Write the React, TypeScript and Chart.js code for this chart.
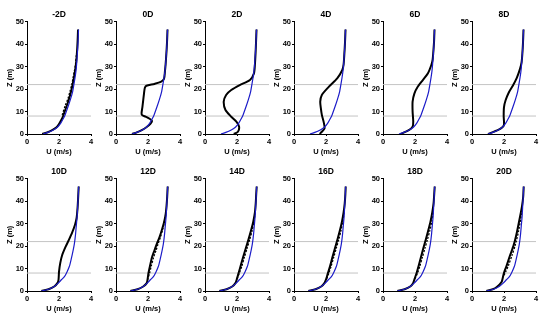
import { useEffect, useRef } from "react";
import { Chart, registerables } from "chart.js";

Chart.register(...registerables);

type P = [number, number]; // [U (m/s), Z (m)]

const panelTitles = ["-2D", "0D", "2D", "4D", "6D", "8D", "10D", "12D", "14D", "16D", "18D", "20D"];

const xMin = 0, xMax = 4, xStep = 2;
const yMin = 0, yMax = 50, yStep = 10;
const refHeights = [8, 22];

const inflowTop: P[] = [[1.0,0],[1.3,0.7],[1.64,1.8],[1.9,3],[2.1,4.7],[2.28,7],[2.38,8.5],[2.6,12.9],[2.72,15.5],[2.85,18.8],[2.93,22],[3.0,25],[3.06,28],[3.1,31],[3.15,36],[3.19,41],[3.22,46.5]];
const inflowBottom: P[] = [[0.9,0],[1.35,0.8],[1.7,2],[1.95,3.5],[2.15,5],[2.35,6.5],[2.5,8.5],[2.65,11],[2.77,14.4],[2.88,18],[2.96,21],[3.03,25],[3.08,29],[3.13,33],[3.17,38],[3.2,42],[3.23,46.5]];

const wakeM2D: P[] = [[0.95,0],[1.3,0.8],[1.6,1.8],[1.85,3],[2.02,4.7],[2.2,7],[2.28,8.5],[2.5,12.9],[2.62,15.5],[2.75,18.8],[2.85,22],[2.93,25],[3.0,28],[3.06,31],[3.12,36],[3.16,41],[3.19,46.5]];
const wake0D: P[] = [[1.0,0],[1.3,0.7],[1.64,1.8],[1.9,3],[2.15,4.5],[2.25,5.8],[2.1,6.8],[1.85,7.7],[1.62,8.5],[1.6,9.5],[1.65,12],[1.7,15],[1.75,18],[1.8,20.5],[1.9,21.5],[2.4,22.3],[2.8,23.2],[3.0,24.5],[3.06,28],[3.1,31],[3.15,36],[3.19,41],[3.22,46.5]];
const wake2D: P[] = [[1.8,0],[2.06,1],[2.13,3.3],[1.96,5.5],[1.64,7.7],[1.28,10.7],[1.17,14.4],[1.32,17.4],[1.64,19.6],[2.17,21.8],[2.81,24],[3.06,27],[3.12,31],[3.16,36],[3.19,41],[3.22,46.5]];
const wake4D: P[] = [[1.6,0],[1.74,1],[1.91,2.5],[1.85,5.5],[1.74,8.5],[1.68,11.4],[1.64,14.4],[1.74,17.4],[2.17,21],[2.7,24.8],[3.02,28.5],[3.1,31],[3.15,36],[3.19,41],[3.22,46.5]];
const wake6D: P[] = [[1.1,0],[1.64,1.8],[1.85,3.3],[1.89,5.5],[1.85,10],[1.85,14.4],[1.96,18],[2.17,21],[2.49,24],[2.81,27],[3.02,30.7],[3.1,33],[3.15,37],[3.19,41],[3.22,46.5]];
const wake8D: P[] = [[1.0,0],[1.64,1.8],[1.9,3],[2.0,4.2],[1.98,8],[2.0,12],[2.1,15],[2.3,18.5],[2.55,21.5],[2.8,25],[3.0,29],[3.1,32],[3.15,36],[3.19,41],[3.22,46.5]];
const wake10D: P[] = [[0.9,0],[1.35,0.8],[1.7,2],[1.9,3.5],[1.97,5],[2.0,8.5],[2.08,12.5],[2.2,16],[2.4,19.5],[2.6,22.5],[2.82,26],[3.0,29.5],[3.1,32.5],[3.16,37],[3.2,42],[3.23,46.5]];
const wake12D: P[] = [[0.9,0],[1.35,0.8],[1.7,2],[1.92,3.5],[1.97,5],[2.03,8],[2.12,11],[2.25,15],[2.4,18],[2.55,21],[2.72,24],[2.88,27.5],[3.0,30.5],[3.1,34],[3.16,38],[3.2,42],[3.23,46.5]];
const wake14D: P[] = [[0.9,0],[1.35,0.8],[1.7,2],[1.9,3.5],[2.0,5.5],[2.1,8],[2.22,11],[2.38,15],[2.55,19],[2.72,23],[2.88,27],[3.02,31],[3.12,35],[3.17,39],[3.2,43],[3.23,46.5]];
const wake16D: P[] = [[0.9,0],[1.35,0.8],[1.7,2],[1.9,3.5],[2.02,5.5],[2.12,8],[2.25,11],[2.4,15],[2.56,19],[2.72,23],[2.87,27],[3.0,31],[3.1,35],[3.17,39],[3.21,43],[3.23,46.5]];
const wake18D: P[] = [[0.9,0],[1.35,0.8],[1.7,2],[1.88,3.5],[1.98,5.5],[2.1,8],[2.22,11],[2.37,15],[2.52,19],[2.68,23],[2.83,27],[2.97,31],[3.08,35],[3.16,39],[3.2,43],[3.23,46.5]];
const wake20D: P[] = [[0.9,0],[1.3,0.8],[1.55,1.8],[1.85,4],[1.96,7],[2.02,8.5],[2.17,11.4],[2.38,15.9],[2.6,20.3],[2.81,26.3],[3.02,33.7],[3.13,38],[3.2,42],[3.23,46.5]];

const dotsM2D: P[] = [[2.2,8.5],[2.4,12.9],[2.55,15.5],[2.68,18.8],[2.8,22],[2.88,25],[2.96,28],[3.03,31],[3.1,36]];
const dots12D: P[] = [[1.97,5],[2.1,8],[2.2,11],[2.35,15],[2.5,18],[2.63,21],[2.78,24],[2.92,27.5],[3.02,30.5],[3.1,34]];
const dots14D: P[] = [[2.0,5.5],[2.15,8],[2.3,11],[2.46,15],[2.63,19],[2.8,23],[2.95,27],[3.06,31],[3.13,35]];
const dots16D: P[] = [[2.05,5.5],[2.18,8],[2.32,11],[2.48,15],[2.64,19],[2.8,23],[2.94,27],[3.05,31],[3.13,35]];
const dots18D: P[] = [[2.0,5.5],[2.16,8],[2.3,11],[2.46,15],[2.62,19],[2.78,23],[2.93,27],[3.05,31],[3.13,35]];
const dots20D: P[] = [[2.0,7],[2.1,8.5],[2.28,11.4],[2.5,15.9],[2.7,20.3],[2.9,26.3],[3.08,33.7],[3.15,38]];

const wakeSolid: P[][] = [wakeM2D, wake0D, wake2D, wake4D, wake6D, wake8D, wake10D, wake12D, wake14D, wake16D, wake18D, wake20D];
const wakeDots: (P[] | null)[] = [dotsM2D, null, null, null, null, null, null, dots12D, dots14D, dots16D, dots18D, dots20D];

const FONT = "'Liberation Sans', Arial, Helvetica, sans-serif";
const BLUE = "#1c1cc8";
const GRAY = "#c4c4c4";

const PANEL_W = 95;
const PANEL_H = 160;
const COL_STEP = 89;
const ROW_STEP = 157;

function toXY(p: P[]) {
  return p.map(([x, y]) => ({ x, y }));
}

function Panel({ index }: { index: number }) {
  const ref = useRef<HTMLCanvasElement | null>(null);
  useEffect(() => {
    if (!ref.current) return;
    const row = index < 6 ? 0 : 1;
    const inflow = row === 0 ? inflowTop : inflowBottom;
    const datasets: any[] = [];
    datasets.push({ data: toXY(inflow), borderColor: BLUE, borderWidth: 1.2, tension: 0.25 });
    const dots = wakeDots[index];
    if (dots) {
      datasets.push({ data: toXY(dots), borderColor: "#000", borderWidth: 1.3, borderDash: [2, 1.5], tension: 0.25 });
    }
    datasets.push({ data: toXY(wakeSolid[index]), borderColor: "#000", borderWidth: 2, tension: 0.25 });
    refHeights.forEach((h) => {
      datasets.push({ data: [{ x: xMin, y: h }, { x: xMax, y: h }], borderColor: GRAY, borderWidth: 1, tension: 0 });
    });
    datasets.forEach((d) => {
      d.showLine = true;
      d.pointRadius = 0;
      d.fill = false;
    });
    const tickFont = { family: FONT, size: 7.5, weight: "bold" as const };
    const chart = new Chart(ref.current, {
      type: "scatter",
      data: { datasets },
      options: {
        animation: false,
        responsive: false,
        events: [],
        layout: { padding: { left: 0, right: 4, top: 0, bottom: 0 } },
        plugins: {
          legend: { display: false },
          tooltip: { enabled: false },
          title: { display: false },
        },
        scales: {
          x: {
            type: "linear",
            min: xMin,
            max: xMax,
            ticks: { stepSize: xStep, color: "#000", font: tickFont, padding: 1, maxRotation: 0 },
            grid: { display: true, drawOnChartArea: false, drawTicks: true, tickLength: 2, color: "#000" },
            border: { display: true, color: "#000", width: 1 },
            title: { display: true, text: "U (m/s)", color: "#000", font: tickFont, padding: { top: 0, bottom: 3.5 } },
            afterFit: (s: any) => { s.height = 26; },
          },
          xTitle: {
            type: "linear",
            position: "top",
            min: xMin,
            max: xMax,
            ticks: { display: false },
            grid: { display: false, drawTicks: false },
            border: { display: false },
            title: {
              display: true,
              text: panelTitles[index],
              color: "#000",
              font: { family: FONT, size: 8.5, weight: "bold", lineHeight: 1.2 },
              padding: { top: 9.8, bottom: 0 },
            },
            afterFit: (s: any) => { s.height = 21.7; },
          },
          y: {
            type: "linear",
            min: yMin,
            max: yMax,
            ticks: { stepSize: yStep, color: "#000", font: tickFont, padding: 1 },
            grid: { display: true, drawOnChartArea: false, drawTicks: true, tickLength: 2, color: "#000" },
            border: { display: true, color: "#000", width: 1 },
            title: { display: true, text: "Z (m)", color: "#000", font: tickFont, padding: { top: 5.5, bottom: 0 } },
            afterFit: (s: any) => { s.width = 27; },
          },
        },
      },
    });
    return () => chart.destroy();
  }, [index]);
  const row = index < 6 ? 0 : 1;
  const col = index % 6;
  return (
    <canvas
      ref={ref}
      width={PANEL_W}
      height={PANEL_H}
      style={{ position: "absolute", left: col * COL_STEP, top: row * ROW_STEP, width: PANEL_W, height: PANEL_H }}
    />
  );
}

export default function App() {
  return (
    <div style={{ position: "fixed", left: 0, top: 0, width: 550, height: 320, background: "#fff", overflow: "hidden" }}>
      {panelTitles.map((_, i) => (
        <Panel key={i} index={i} />
      ))}
    </div>
  );
}
